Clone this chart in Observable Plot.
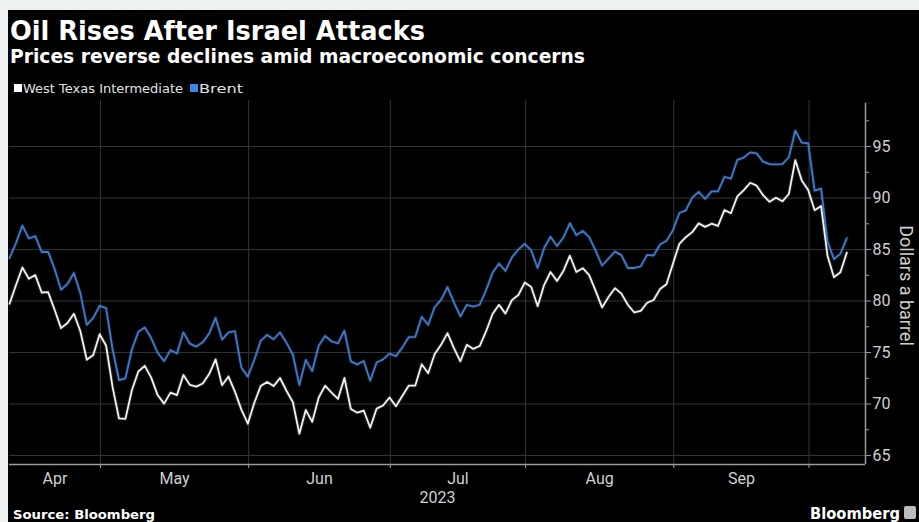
<!DOCTYPE html>
<html><head><meta charset="utf-8">
<script src="https://cdn.jsdelivr.net/npm/d3@7"></script>
<script src="https://cdn.jsdelivr.net/npm/@observablehq/plot@0.6"></script>
<style>
html,body{margin:0;padding:0;}
body{width:919px;height:522px;position:relative;background:#eef1f1;overflow:hidden;font-family:"DejaVu Sans",sans-serif;}
#bg{position:absolute;left:8px;top:10px;right:0;bottom:0;background:#000;}
.t{position:absolute;white-space:nowrap;transform-origin:0 0;line-height:1;}
#title{left:10px;top:18px;font-size:26px;font-weight:bold;color:#fff;}
#subtitle{left:10px;top:46px;font-size:20px;font-weight:bold;color:#fff;}
.sw{position:absolute;width:8px;height:8px;top:84px;}
.lg{top:82px;font-size:13px;color:#e2e2e2;}
#source{left:13px;top:508px;font-size:13px;font-weight:bold;color:#fff;}
#logo{left:810px;top:506px;font-size:16px;font-weight:bold;color:#fff;}
#icon{position:absolute;left:904px;top:506px;width:12px;height:13px;border-radius:2px;background:#bdbdbd;}
#plot{position:absolute;left:0;top:100px;}
</style></head>
<body>
<div id="bg"></div>
<div id="title" class="t">Oil Rises After Israel Attacks</div>
<div id="subtitle" class="t">Prices reverse declines amid macroeconomic concerns</div>
<div id="legend"></div>
<div id="plot"></div>
<div id="source" class="t">Source: Bloomberg</div>
<div id="logo" class="t">Bloomberg</div>
<div id="icon"></div>
<script>
// ---- Data (weekday sessions from Apr 10 to Oct 9, 2023) ----
const seriesNames = ["West Texas Intermediate", "Brent"];
const seriesColors = ["#f2f2f2", "#4578c6"];

const wti = [
  // Apr 10-28
  79.74, 81.53, 83.26, 82.16, 82.52, 80.83, 80.86, 79.16, 77.37, 77.87, 78.76, 77.07, 74.30, 74.76, 76.78,
  // May
  75.66, 71.66, 68.60, 68.56, 71.34, 73.16, 73.71, 72.56, 70.87, 70.04, 71.11, 70.86, 72.83, 71.86, 71.69,
  71.99, 72.91, 74.34, 71.83, 72.67, 71.20, 69.46, 68.09,
  // Jun
  70.10, 71.74, 72.15, 71.74, 72.53, 71.29, 70.17, 67.12, 69.42, 68.27, 70.62, 71.78, 71.10, 70.50, 72.53,
  69.51, 69.16, 69.37, 67.70, 69.56, 69.86, 70.64,
  // Jul
  69.79, 70.80, 71.79, 71.80, 73.86, 72.99, 74.83, 75.75, 76.89, 75.42, 74.15, 75.75, 75.35, 75.63, 77.07,
  78.74, 79.63, 78.78, 80.09, 80.58, 81.80,
  // Aug
  81.37, 79.49, 81.55, 82.82, 81.94, 82.92, 84.40, 82.82, 83.19, 82.51, 80.99, 79.38, 80.39, 81.25, 80.72,
  79.64, 78.89, 79.05, 79.83, 80.10, 81.16, 81.63, 83.63,
  // Sep
  85.55, 86.20, 86.69, 87.54, 87.20, 87.51, 87.29, 88.84, 88.52, 90.16, 90.77, 91.48, 91.20, 90.28, 89.63,
  90.03, 89.68, 90.39, 93.68, 91.71, 90.79,
  // Oct 2-9
  88.82, 89.23, 84.40, 82.31, 82.79, 84.70
];

const brent = [
  // Apr 10-28
  84.18, 85.61, 87.33, 86.09, 86.31, 84.76, 84.77, 83.12, 81.10, 81.66, 82.73, 80.77, 77.69, 78.37, 79.54,
  // May
  79.31, 75.32, 72.33, 72.50, 75.30, 77.01, 77.44, 76.41, 74.98, 74.17, 75.23, 74.91, 76.96, 75.86, 75.58,
  75.99, 76.84, 78.36, 76.26, 76.95, 77.07, 73.54, 72.66,
  // Jun
  74.28, 76.13, 76.71, 76.29, 76.95, 75.96, 74.79, 71.84, 74.29, 73.20, 75.67, 76.61, 76.09, 75.90, 77.12,
  74.14, 73.85, 74.18, 72.26, 74.03, 74.34, 74.90,
  // Jul
  74.65, 75.50, 76.50, 76.52, 78.47, 77.69, 79.40, 80.11, 81.36, 79.87, 78.50, 79.63, 79.46, 79.64, 81.07,
  82.74, 83.64, 82.92, 84.24, 84.99, 85.56,
  // Aug
  84.91, 83.20, 85.14, 86.24, 85.34, 86.17, 87.55, 86.40, 86.81, 86.21, 84.89, 83.45, 84.12, 84.80, 84.46,
  83.21, 83.21, 83.36, 84.48, 84.42, 85.49, 85.86, 86.86,
  // Sep
  88.55, 88.80, 90.04, 90.60, 89.92, 90.65, 90.64, 92.06, 91.88, 93.70, 93.93, 94.43, 94.34, 93.53, 93.30,
  93.27, 93.29, 93.96, 96.55, 95.38, 95.31,
  // Oct 2-9
  90.71, 90.92, 85.81, 84.07, 84.58, 86.10
];

const monthLabels = ["Apr", "May", "Jun", "Jul", "Aug", "Sep"];
// session index of the first weekday of May..Oct
const monthStarts = [15, 38, 60, 81, 104, 125];
const yearLabel = "2023";
const yTicks = [65, 70, 75, 80, 85, 90, 95];
const yMinor = [67.5, 72.5, 77.5, 82.5, 87.5, 92.5, 97.5];
const yLabel = "Dollars a barrel";

// ---- Layout helpers ----
const gridOffset = 0.87;
const xMax = 132.9, yMin = 64.13, yMax = 99.47;
const gridX = monthStarts.map(m => m - gridOffset);
const bounds = [0, ...gridX];
const monthPos = monthLabels.map((_, i) => (bounds[i] + bounds[i + 1]) / 2);

const rows = [];
seriesNames.forEach((name, s) => {
  const vals = s === 0 ? wti : brent;
  vals.forEach((v, i) => rows.push({series: name, i, v}));
});

// legend
const legend = document.getElementById("legend");
const legendX = [[14, 23, 160], [190, 199, 44]];
seriesNames.forEach((name, s) => {
  const sw = document.createElement("div");
  sw.className = "sw";
  sw.style.left = legendX[s][0] + "px";
  sw.style.background = s === 0 ? "#ffffff" : "#3d86e6";
  legend.appendChild(sw);
  const t = document.createElement("div");
  t.className = "t lg";
  t.style.left = legendX[s][1] + "px";
  t.textContent = name;
  t.dataset.w = legendX[s][2];
  legend.appendChild(t);
});

const axisColor = "#9c9c9c", gridColor = "#343434", textColor = "#d0d0d0";

const chart = Plot.plot({
  width: 919,
  height: 403,
  marginLeft: 9,
  marginRight: 54,
  marginTop: 0,
  marginBottom: 39,
  style: {background: "transparent", color: textColor, fontFamily: "Roboto, 'DejaVu Sans', sans-serif", fontSize: "16px", overflow: "visible"},
  x: {type: "linear", domain: [0, xMax], axis: null},
  y: {domain: [yMin, yMax], axis: null},
  color: {domain: seriesNames, range: seriesColors},
  marks: [
    Plot.ruleY(yTicks, {stroke: gridColor, strokeWidth: 1}),
    Plot.ruleX(gridX, {stroke: gridColor, strokeWidth: 1}),
    Plot.line(rows, {filter: d => d.series === "Brent", x: "i", y: "v", stroke: "series", strokeWidth: 4, strokeOpacity: 0.18}),
    Plot.line(rows, {filter: d => d.series !== "Brent", x: "i", y: "v", stroke: "series", strokeWidth: 4, strokeOpacity: 0.12}),
    Plot.line(rows, {filter: d => d.series === "Brent", x: "i", y: "v", stroke: "series", strokeWidth: 1.8}),
    Plot.line(rows, {filter: d => d.series !== "Brent", x: "i", y: "v", stroke: "series", strokeWidth: 1.8}),
    Plot.ruleY([yMin], {stroke: axisColor, strokeWidth: 1.5}),
    Plot.ruleX([xMax], {y1: yMin, y2: 99.2, stroke: axisColor, strokeWidth: 1.5}),
    Plot.axisX({ticks: gridX, tickSize: 4, tickFormat: () => "", stroke: axisColor, label: null}),
    Plot.axisY({anchor: "right", ticks: yTicks, tickSize: 5, tickPadding: 2, stroke: axisColor, fill: textColor, fontSize: 16, tickFormat: d => String(d), label: null}),
    Plot.axisY({anchor: "right", ticks: yMinor, tickSize: 3, tickFormat: () => "", stroke: axisColor, label: null}),
    Plot.text(monthLabels, {x: monthPos, text: d => d, frameAnchor: "bottom", dy: 19, lineAnchor: "bottom", fill: textColor, fontSize: 16}),
    Plot.text([yearLabel], {text: d => d, frameAnchor: "bottom", dy: 38, lineAnchor: "bottom", fill: textColor, fontSize: 16}),
    Plot.text([yLabel], {text: d => d, frameAnchor: "right", textAnchor: "middle", dx: 40, dy: 3, rotate: 90, fill: textColor, fontSize: 18})
  ]
});
document.getElementById("plot").appendChild(chart);

// fit header texts to the widths measured on the reference
function fit(el, w) {
  const r = el.getBoundingClientRect().width;
  if (r > 0) el.style.transform = `scaleX(${w / r})`;
}
fit(document.getElementById("title"), 415);
fit(document.getElementById("subtitle"), 575);
fit(document.getElementById("source"), 142);
fit(document.getElementById("logo"), 90);
document.querySelectorAll(".lg").forEach(el => fit(el, +el.dataset.w));
</script>
</body></html>
